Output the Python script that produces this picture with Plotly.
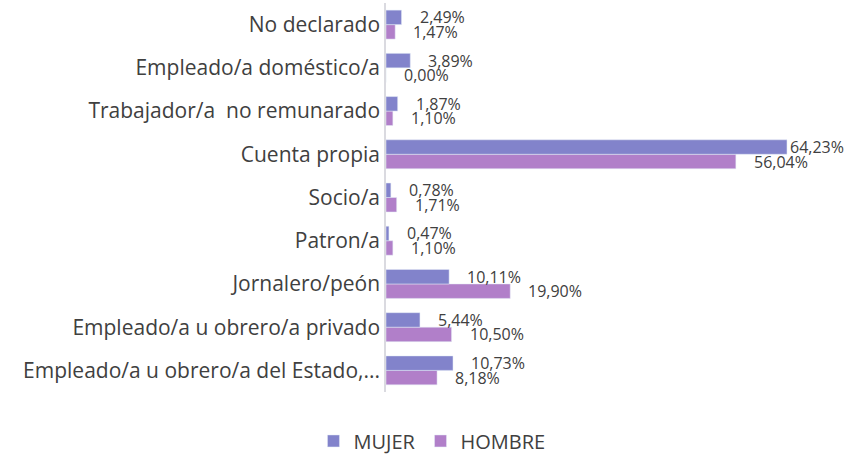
import plotly.graph_objects as go

categorias = ['Empleado/a u obrero/a del Estado,...', 'Empleado/a u obrero/a privado',
              'Jornalero/peón', 'Patron/a', 'Socio/a', 'Cuenta propia',
              'Trabajador/a  no remunarado', 'Empleado/a doméstico/a', 'No declarado']
mujer = [10.73, 5.44, 10.11, 0.47, 0.78, 64.23, 1.87, 3.89, 2.49]
hombre = [8.18, 10.50, 19.90, 1.10, 1.71, 56.04, 1.10, 0.00, 1.47]

COL_M = '#8283CB'
COL_H = '#B17FC9'
FONT = 'Open Sans'

ML, MR, MT, MB = 386, 29, 3, 64
W, H = 852, 456
XMAX = 70
BARGAP = 0.33

fig = go.Figure()
fig.add_trace(go.Bar(y=categorias, x=hombre, name='HOMBRE', orientation='h',
                     marker=dict(color=COL_H)))
fig.add_trace(go.Bar(y=categorias, x=mujer, name='MUJER', orientation='h',
                     marker=dict(color=COL_M)))

# etiquetas de datos, un poco separadas del final de la barra
px_per = (W - ML - MR) / XMAX
cat_px = (H - MT - MB) / len(categorias)
off = cat_px * (1 - BARGAP) / 4
lbl_w = 58
for vals, dy in ((mujer, off), (hombre, -off)):
    for c, v in zip(categorias, vals):
        end_px = ML + v * px_per
        shift = min(16, W - 6 - lbl_w - end_px)
        fig.add_annotation(x=v, y=c, text=f'{v:.2f}'.replace('.', ',') + '%',
                           xanchor='left', yanchor='middle', xshift=shift, yshift=dy,
                           showarrow=False, font=dict(size=16, color='#404040', family=FONT))

fig.update_layout(
    width=W, height=H,
    barmode='group', bargap=BARGAP, bargroupgap=0,
    plot_bgcolor='white', paper_bgcolor='white',
    margin=dict(l=ML, r=MR, t=MT, b=MB),
    font=dict(family=FONT, size=21, color='#404040'),
    xaxis=dict(range=[0, XMAX], visible=False, showgrid=False),
    yaxis=dict(categoryorder='array', categoryarray=categorias, showline=True,
               linecolor='#dadae0', linewidth=1.5, ticks='', showgrid=False,
               ticklabelstandoff=0, tickfont=dict(size=21, color='#404040')),
    legend=dict(orientation='h', traceorder='reversed', xref='container', yref='container',
                x=0.507, y=0.033, xanchor='center', yanchor='middle',
                font=dict(size=20, color='#404040')),
    showlegend=True,
)

fig.write_html('out.html', config={'displayModeBar': False},
               post_script="document.body.style.margin='0';")
